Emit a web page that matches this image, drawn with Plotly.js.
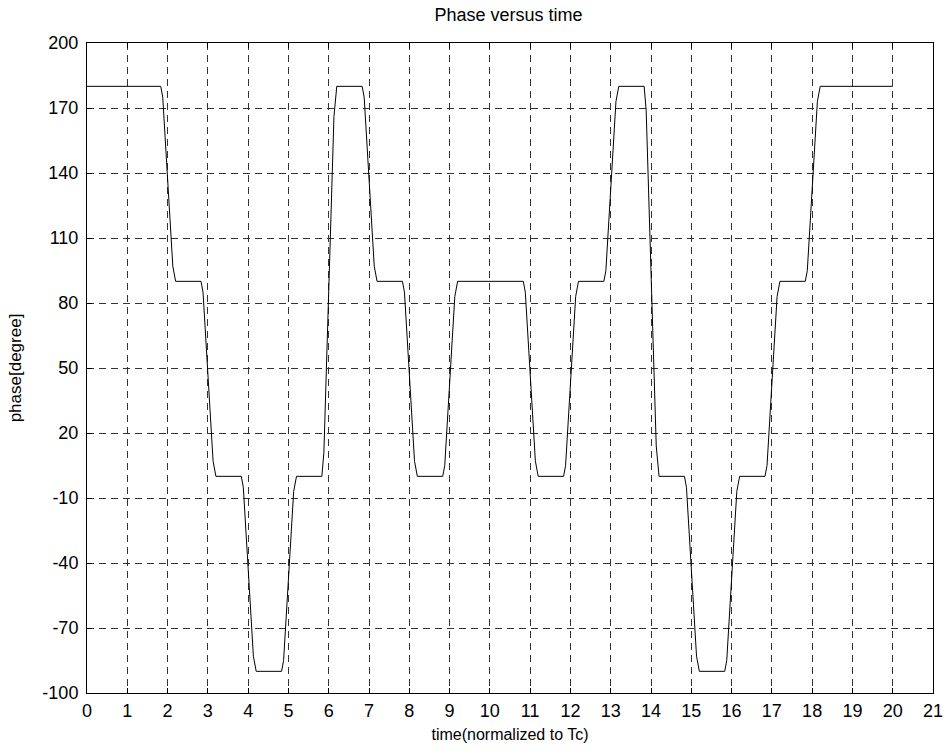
<!DOCTYPE html>
<html>
<head>
<meta charset="utf-8">
<script src="https://cdn.plot.ly/plotly-3.0.1.min.js"></script>
<style>html,body{margin:0;padding:0;background:#fff;}#chart{width:947px;height:751px;}</style>
</head>
<body>
<div id="chart"></div>
<script>
// time (normalized to Tc)
const timeVals = [
  0,
  1.83, 1.88, 2.13, 2.20,
  2.83, 2.88, 3.13, 3.20,
  3.83, 3.88, 4.13, 4.20,
  4.83, 4.88, 5.13, 5.20,
  5.83, 5.88, 6.13, 6.20,
  6.83, 6.88, 7.13, 7.20,
  7.83, 7.88, 8.13, 8.20,
  8.83, 8.88, 9.13, 9.20,
  10.83, 10.88, 11.13, 11.20,
  11.83, 11.88, 12.13, 12.20,
  12.83, 12.88, 13.13, 13.20,
  13.83, 13.88, 14.13, 14.20,
  14.83, 14.88, 15.13, 15.20,
  15.83, 15.88, 16.13, 16.20,
  16.83, 16.88, 17.13, 17.20,
  17.83, 17.88, 18.13, 18.20,
  20
];
// phase in degrees
const phaseVals = [
  180,
  180, 175, 97, 90,
  90, 85, 7, 0,
  0, -5, -83, -90,
  -90, -85, -7, 0,
  0, 11, 166, 180,
  180, 175, 97, 90,
  90, 85, 7, 0,
  0, 5, 83, 90,
  90, 85, 7, 0,
  0, 5, 83, 90,
  90, 95, 173, 180,
  180, 169, 14, 0,
  0, -5, -83, -90,
  -90, -85, -7, 0,
  0, 5, 83, 90,
  90, 95, 173, 180,
  180
];
const xTicks = [0,1,2,3,4,5,6,7,8,9,10,11,12,13,14,15,16,17,18,19,20,21];
const yTicks = [-100,-70,-40,-10,20,50,80,110,140,170,200];

const fontFam = 'Liberation Sans, Arial, sans-serif';
const trace = {
  x: timeVals, y: phaseVals, type: 'scatter', mode: 'lines',
  line: {color: '#000', width: 1}, hoverinfo: 'skip'
};
const axisCommon = {
  showline: true, linecolor: '#000', linewidth: 1, mirror: 'ticks',
  ticks: 'inside', ticklen: 5, tickcolor: '#000', tickwidth: 1,
  showgrid: true, gridcolor: '#333', gridwidth: 1, griddash: '7px,5px',
  zeroline: false, tickfont: {family: fontFam, size: 18, color: '#000'}
};
const layout = {
  width: 947, height: 751,
  margin: {l: 87, r: 14, t: 43, b: 58},
  paper_bgcolor: '#fff', plot_bgcolor: '#fff',
  showlegend: false,
  title: {text: 'Phase versus time', font: {family: fontFam, size: 18, color: '#000'}, x: 0.537, xanchor: 'center', y: 0.981, yanchor: 'middle'},
  xaxis: Object.assign({}, axisCommon, {
    range: [0, 21], tickmode: 'array', tickvals: xTicks, ticktext: xTicks.map(String),
    ticklabelstandoff: 1,
    title: {text: 'time(normalized to Tc)', font: {family: fontFam, size: 16, color: '#000'}, standoff: 9}
  }),
  yaxis: Object.assign({}, axisCommon, {
    range: [-100, 200], tickmode: 'array', tickvals: yTicks, ticktext: yTicks.map(String),
    ticklabelstandoff: 4,
    title: {text: 'phase[degree]', font: {family: fontFam, size: 17, color: '#000'}, standoff: 16}
  })
};
Plotly.newPlot('chart', [trace], layout, {displayModeBar: false, staticPlot: true});
</script>
</body>
</html>
